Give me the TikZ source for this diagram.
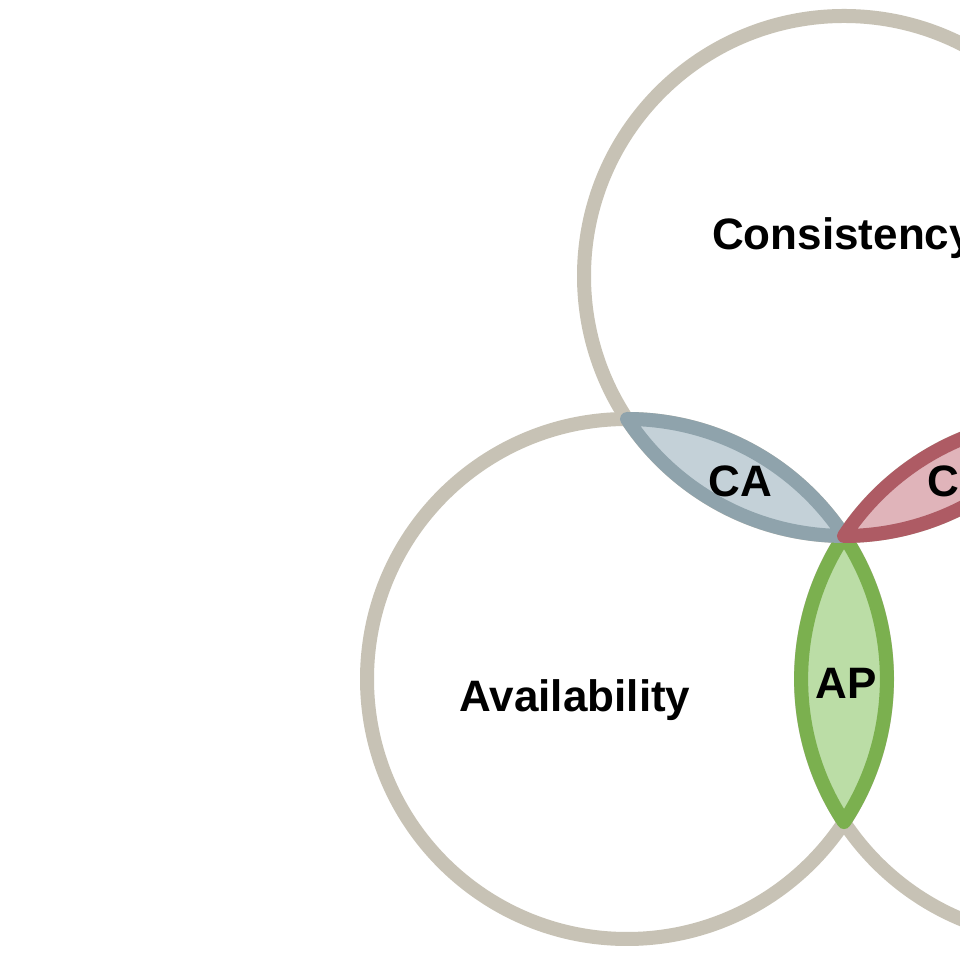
\documentclass[tikz,border=0pt]{standalone}
\usepackage{fontspec}
\setmainfont{Liberation Sans}
\definecolor{ringgray}{HTML}{C7C2B5}
\definecolor{cafill}{HTML}{C4D1D8}
\definecolor{cadraw}{HTML}{8FA3AC}
\definecolor{cpfill}{HTML}{E0B4BA}
\definecolor{cpdraw}{HTML}{AE5B64}
\definecolor{apfill}{HTML}{BBDDA6}
\definecolor{apdraw}{HTML}{7BB04F}
\tikzset{
  ring/.style={draw=ringgray, line width=14pt},
  lens/.style={line width=14pt, line join=round},
  lbl/.style={font=\fontsize{44}{53}\selectfont\bfseries, inner sep=0pt, anchor=base},
}
\begin{document}
\begin{tikzpicture}[x=1pt,y=1pt]
\useasboundingbox (0,0) rectangle (960,960);
\clip (0,0) rectangle (960,960);
\fill[white] (0,0) rectangle (960,960);
\coordinate (Cc) at (844,684);
\coordinate (Ac) at (627,281);
\coordinate (Pc) at (1061,281);
\coordinate (O) at (844,424);
\coordinate (X) at (627,541);
\coordinate (Y) at (1061,541);
\coordinate (Z) at (844,138);
% circles
\draw[ring] (Cc) circle[radius=260];
\draw[ring] (Ac) circle[radius=260];
\draw[ring] (Pc) circle[radius=260];
% AP lens
\draw[lens, fill=apfill, draw=apdraw] (O) arc[start angle=33.38, end angle=-33.38, radius=260]
   arc[start angle=213.38, end angle=146.62, radius=260] -- cycle;
% CA lens
\draw[lens, fill=cafill, draw=cadraw] (X) arc[start angle=90, end angle=33.38, radius=260]
   arc[start angle=270, end angle=213.38, radius=260] -- cycle;
% CP lens
\draw[lens, fill=cpfill, draw=cpdraw] (O) arc[start angle=146.62, end angle=90, radius=260]
   arc[start angle=-33.38, end angle=-90, radius=260] -- cycle;
% labels
\node[lbl] (tc) at (843,710) {Consistency};
\node[lbl] (ta) at (575,248) {Availability};
\node[lbl] (tca) at (740,463) {CA};
\node[lbl] (tap) at (846,261) {AP};
\node[lbl, anchor=base west] (tcp) at (927,463) {CP};
\end{tikzpicture}
\end{document}
